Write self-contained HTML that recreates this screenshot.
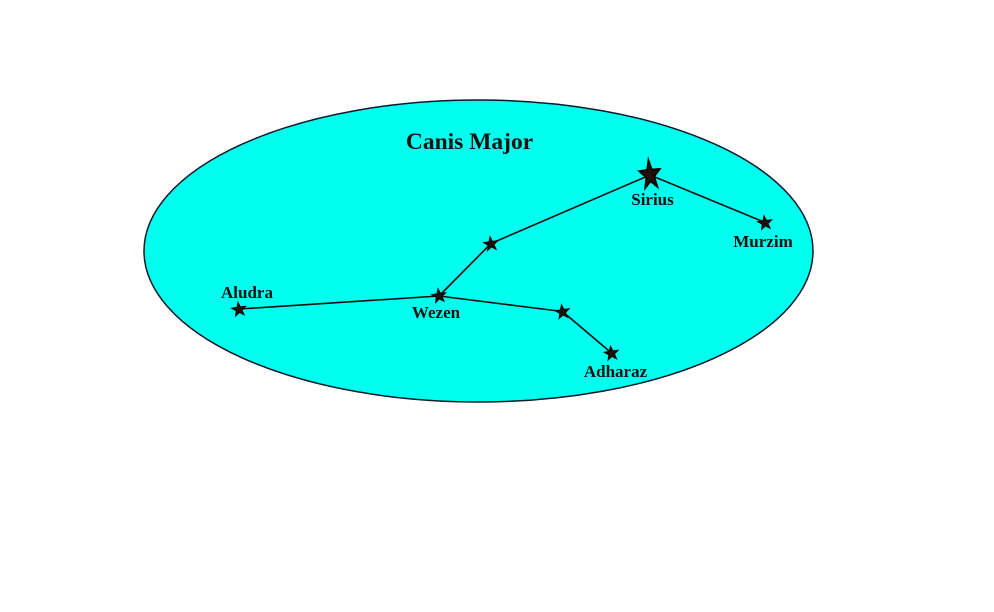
<!DOCTYPE html>
<html>
<head>
<meta charset="utf-8">
<style>
html,body{margin:0;padding:0;background:#fff;}
svg{display:block;}
text{font-family:"Liberation Serif","Times New Roman",serif;font-weight:bold;fill:#111;}
</style>
</head>
<body>
<svg width="994" height="612" viewBox="0 0 994 612" xmlns="http://www.w3.org/2000/svg">
<defs>
<polygon id="st" points="0,-1 0.235,-0.324 0.951,-0.309 0.380,0.124 0.588,0.809 0,0.4 -0.588,0.809 -0.380,0.124 -0.951,-0.309 -0.235,-0.324" fill="#1e0f0a" stroke="#000" stroke-width="0.12"/>
</defs>
<ellipse cx="478.5" cy="251" rx="334.5" ry="151" fill="#00ffee" stroke="#0a1a2a" stroke-width="1.5"/>
<text x="469.5" y="149" font-size="23.5" text-anchor="middle">Canis Major</text>
<g stroke="#111" stroke-width="1.6" fill="none">
<line x1="239" y1="309" x2="439" y2="296"/>
<line x1="439" y1="296" x2="491" y2="243.5"/>
<line x1="491" y1="243.5" x2="650" y2="175"/>
<line x1="650" y1="175" x2="765" y2="222.5"/>
<line x1="439" y1="296" x2="562.5" y2="311.5"/>
<line x1="562.5" y1="311.5" x2="611.5" y2="353"/>
</g>
<use href="#st" transform="translate(650,175) rotate(-6) scale(11,16)"/>
<use href="#st" transform="translate(765,223) rotate(-8) scale(7.5)"/>
<use href="#st" transform="translate(491,244) rotate(-8) scale(7.5)"/>
<use href="#st" transform="translate(439,296) rotate(-8) scale(7.5)"/>
<use href="#st" transform="translate(239,309.5) rotate(-8) scale(7.5)"/>
<use href="#st" transform="translate(562.5,312) rotate(-8) scale(7.5)"/>
<use href="#st" transform="translate(611.5,353.5) rotate(-8) scale(7.5)"/>
<g font-size="17">
<text x="652.5" y="205" text-anchor="middle">Sirius</text>
<text x="763" y="247" text-anchor="middle">Murzim</text>
<text x="247" y="298" text-anchor="middle">Aludra</text>
<text x="436" y="318" text-anchor="middle">Wezen</text>
<text x="615.5" y="377" text-anchor="middle">Adharaz</text>
</g>
</svg>
</body>
</html>
